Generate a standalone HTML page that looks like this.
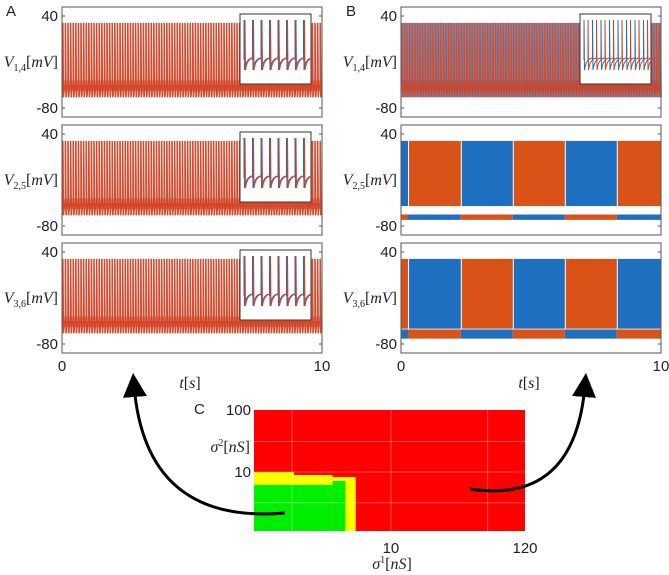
<!DOCTYPE html>
<html><head><meta charset="utf-8"><style>
body{margin:0;background:#fff;}
svg{display:block;font-family:"Liberation Sans",sans-serif;}
.tk{font-size:15px;fill:#222;}
.lb{font-family:"Liberation Serif",serif;font-style:italic;font-size:16px;fill:#222;}
</style></head><body>
<svg id="fig" width="669" height="575" viewBox="0 0 669 575">
<defs><marker id="ah" markerWidth="8" markerHeight="8" refX="4" refY="4" orient="auto"><path d="M0,0 L8,4 L0,8 z" fill="#000"/></marker></defs>
<g id="root"></g>
</svg>
<script>
// ---- data ----
const tMax = 10;
const yTicks = [40, -80];
const xTicks = [0, 10];
const panelLabels = ["V_{1,4}", "V_{2,5}", "V_{3,6}"];
const spikeCountA = 100;          // spikes in 10 s
const spikePeak = 31, spikeTrough = -66, spikeReset = -50;
// panel B anti-phase bursts: boundaries (s)
const burstEdges = [0, 0.27, 2.3, 4.3, 6.3, 8.3, 10];
const burstColorRow2 = ["blue", "orange", "blue", "orange", "blue", "orange"];
const burstColorRow3 = ["orange", "blue", "orange", "blue", "orange", "blue"];
const burstTop = 31;
const burstBottom = [null, -54, -60];
const quietTop = [null, -65, -61];
const quietBottom = [null, -72, -73];
// panel C map (log axes): regions in sigma1, sigma2 [nS]
const cXRange = [0.79, 120];
const cYRange = [1.12, 100];
const cXTicks = [10, 120];
const cYTicks = [10, 100];
const yellowCells = [[0.79, 1.66, 1.12, 10], [1.66, 3.4, 1.12, 8.95], [3.4, 5.2, 1.12, 8.3]];
const greenCells = [[0.79, 3.4, 1.12, 6.2], [3.4, 4.3, 1.12, 7.2]];

const C = {red:"#d9411e", blue:"#1f6fc0", orange:"#d95319"};
const root = document.getElementById('root');
const NS = "http://www.w3.org/2000/svg";
function mk(tag, attrs, parent){const e=document.createElementNS(NS,tag);for(const k in attrs)e.setAttribute(k,attrs[k]);(parent||root).appendChild(e);return e;}

const panelsTop = [7, 125, 243];
const cols = [{x0:62, x1:322}, {x0:401, x1:661}];
function xs(c, t){return c.x0 + (c.x1-c.x0)*t/tMax;}
function ys(p, v){const y40=panelsTop[p]+9, ym80=panelsTop[p]+101;return y40 + (40-v)*(ym80-y40)/120;}

function subLabel(g, x, y, sub){
  const t = mk('text',{x:x,y:y,class:'lb','text-anchor':'end'},g);
  
  
  const parts = sub.match(/V_\{(.*)\}/);
  t.innerHTML = 'V<tspan font-size="10" dy="4" font-style="normal">'+parts[1]+'</tspan><tspan dy="-4" font-style="normal">[</tspan>mV<tspan font-style="normal">]</tspan>';
}

function frame(g,c,p){
  mk('rect',{x:c.x0,y:panelsTop[p],width:c.x1-c.x0,height:110,fill:'none',stroke:'#555','stroke-width':1},g);
  yTicks.forEach(v=>{
    const y=ys(p,v);
    mk('line',{x1:c.x0,x2:c.x0+3,y1:y,y2:y,stroke:'#555'},g);
    mk('line',{x1:c.x1,x2:c.x1-3,y1:y,y2:y,stroke:'#555'},g);
    const t=mk('text',{x:c.x0-4,y:y+5,class:'tk','text-anchor':'end'},g);t.textContent=v;
  });
  subLabel(g, c.x0-4, ys(p,-20)+5, panelLabels[p]);
}

cols.forEach((c,ci)=>{
  for(let p=0;p<3;p++){
    const g = mk('g',{});
    
    
    if(ci===0 || p===0){
      const n = spikeCountA;
      const band=mk('rect',{x:c.x0,y:ys(p,spikeReset+6),width:c.x1-c.x0,height:ys(p,spikeReset-8)-ys(p,spikeReset+6),fill:ci?'#b04a4a':C.red,opacity:0.55},g);
      
      
      for(const col of ['blue','red']){
        let d='';
        const off = col==='blue'? (ci===0?0.05:0.5):0;
        for(let i=0;i<n;i++){
          const t=(i+0.3+off)*tMax/n;
          const t2=(i+0.95+off)*tMax/n;
          if(t>tMax) continue;
          d+=`M${xs(c,t).toFixed(1)},${ys(p,spikeReset)}L${xs(c,t).toFixed(1)},${ys(p,spikePeak)}L${(xs(c,t)+0.6).toFixed(1)},${ys(p,spikeTrough)}L${Math.min(xs(c,t2),c.x1).toFixed(1)},${ys(p,spikeReset)}`;
        }
        const pa=mk('path',{d:d,fill:'none',stroke:col==='red'?C.red:C.blue,'stroke-width':ci?1.4:1.5,opacity:col==='blue'?(ci?0.75:0.35):0.95},g);
        
        
      }
      const ix = ci? 580:240, iy=panelsTop[p]+7;
      const ig=mk('g',{},g);
      
      
      mk('rect',{x:ix,y:iy,width:71,height:70,fill:'#fff',stroke:'#333'},ig);
      const ni=8;
      ['blue','red'].forEach(col=>{
        let dd='';
        for(let i=0;i<ni;i++){
          const x=ix+4+i*8.5+(col==='red'?(ci?4:1):0);
          dd+=`M${x},${iy+46}L${x},${iy+6}L${x+0.5},${iy+56}Q${x+2},${iy+45} ${x+8},${iy+44}`;
        }
        mk('path',{d:dd,fill:'none',stroke:C[col],'stroke-width':1},ig);
      });
    } else {
      const colors = p===1?burstColorRow2:burstColorRow3;
      for(let k=0;k<colors.length;k++){
        const a=burstEdges[k], b=burstEdges[k+1];
        const other = colors[k]==='blue'?'orange':'blue';
        const q=mk('rect',{x:xs(c,a),y:ys(p,quietTop[p]),width:xs(c,b)-xs(c,a),height:ys(p,quietBottom[p])-ys(p,quietTop[p]),fill:C[other]},g);
        
        
        const r=mk('rect',{x:xs(c,a)+(k?1:0),y:ys(p,burstTop),width:xs(c,b)-xs(c,a)-(k?1:0),height:ys(p,burstBottom[p])-ys(p,burstTop),fill:C[colors[k]]},g);
        
        
      }
    }
    frame(g,c,p);
  }
  xTicks.forEach(v=>{
    const t=mk('text',{x:xs(c,v),y:371,class:'tk','text-anchor':'middle'});t.textContent=v;
    
    
  });
  const xl=mk('text',{x:(c.x0+c.x1)/2-2,y:388,class:'lb','text-anchor':'middle'});
  xl.innerHTML='t<tspan font-style="normal">[</tspan>s<tspan font-style="normal">]</tspan>';
  
  
});
[['A',6,16],['B',346,16],['C',194,414]].forEach(([s,x,y])=>{
  const t=mk('text',{x:x,y:y,'font-size':15,fill:'#222'});t.textContent=s;
  
  
});

// Panel C
const cx0=254,cx1=525,cy0=410,cy1=531;
const lx0=Math.log10(cXRange[0]), lx1=Math.log10(cXRange[1]), ly0=Math.log10(cYRange[0]), ly1=Math.log10(cYRange[1]);
function cxs(v){return cx0+(Math.log10(v)-lx0)/(lx1-lx0)*(cx1-cx0);}
function cys(v){return cy1-(Math.log10(v)-ly0)/(ly1-ly0)*(cy1-cy0);}
const cg=mk('g',{});


mk('rect',{x:cx0,y:cy0,width:cx1-cx0,height:cy1-cy0,fill:'#ff0000'},cg);
yellowCells.forEach(r=>{const e=mk('rect',{x:cxs(r[0]),y:cys(r[3]),width:cxs(r[1])-cxs(r[0]),height:cys(r[2])-cys(r[3]),fill:'#ffff00'},cg);
  });
greenCells.forEach(r=>{const e=mk('rect',{x:cxs(r[0]),y:cys(r[3]),width:cxs(r[1])-cxs(r[0]),height:cys(r[2])-cys(r[3]),fill:'#00ee00'},cg);
  });
[1.6,10,60].forEach(v=>{mk('line',{x1:cxs(v),x2:cxs(v),y1:cy0,y2:cy1,stroke:'#fff','stroke-opacity':0.3},cg);});
[3.2,10,31].forEach(v=>{mk('line',{x1:cx0,x2:cx1,y1:cys(v),y2:cys(v),stroke:'#fff','stroke-opacity':0.3},cg);});
cXTicks.forEach(v=>{const t=mk('text',{x:cxs(v),y:553,class:'tk','text-anchor':'middle'});t.textContent=v;
  });
cYTicks.forEach(v=>{const t=mk('text',{x:cx0-3,y:cys(v)+5,class:'tk','text-anchor':'end'});t.textContent=v;
  });
const s1=mk('text',{x:392,y:569,class:'lb','text-anchor':'middle'});
s1.innerHTML='σ<tspan font-size="10" dy="-6" font-style="normal">1</tspan><tspan dy="6" font-style="normal">[</tspan>nS<tspan font-style="normal">]</tspan>';

const s2=mk('text',{x:250,y:452,class:'lb','text-anchor':'end'});
s2.innerHTML='σ<tspan font-size="10" dy="-6" font-style="normal">2</tspan><tspan dy="6" font-style="normal">[</tspan>nS<tspan font-style="normal">]</tspan>';


const a1=mk('path',{d:'M285,513 Q145,525 134,385',fill:'none',stroke:'#000','stroke-width':3,'marker-end':'url(#ah)'});

const a2=mk('path',{d:'M470,489 Q575,505 585,385',fill:'none',stroke:'#000','stroke-width':3,'marker-end':'url(#ah)'});

</script>
</body></html>
